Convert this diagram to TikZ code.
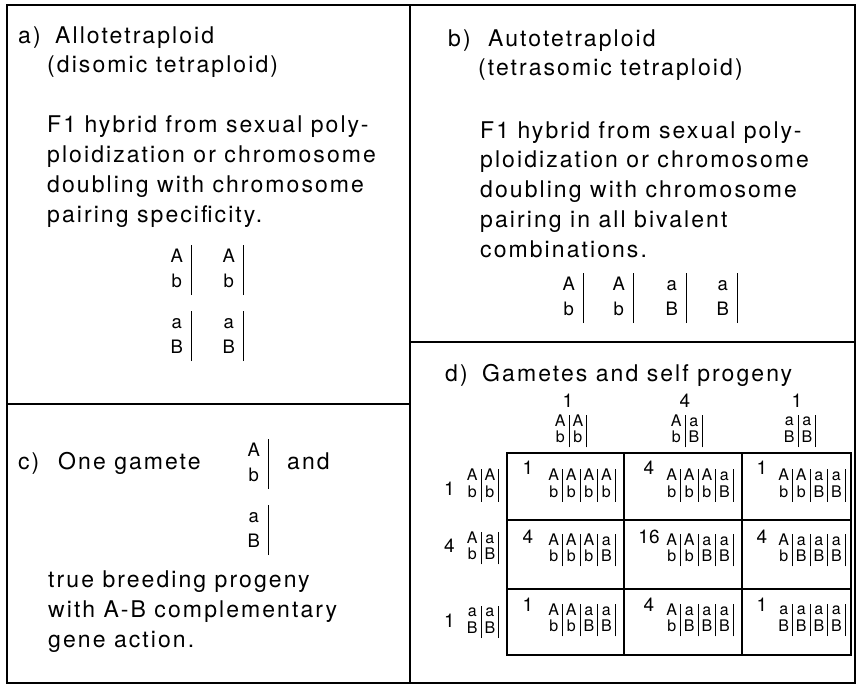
\documentclass[tikz,border=0pt]{standalone}
\usepackage{fontspec}
\setmainfont{TeX Gyre Heros}
\newfontfamily\panelfont[LetterSpace=9]{TeX Gyre Heros}
\usepackage{array}
\usetikzlibrary{positioning}

\setlength{\arrayrulewidth}{0.9pt}
% one chromosome pair, large
\newcommand{\gOne}[2]{{\setlength{\tabcolsep}{0pt}\begin{tabular}{@{}c@{\hspace{8pt}}|@{}}#1\\#2\end{tabular}}}
% gametes and progeny in the grid
\newcommand{\gTwo}[4]{{\setlength{\tabcolsep}{3pt}\begin{tabular}{@{}c|c|@{}}#1&#2\\#3&#4\end{tabular}}}
\newcommand{\gFour}[8]{{\setlength{\tabcolsep}{3pt}\begin{tabular}{@{}c|c|c|c|@{}}#1&#2&#3&#4\\#5&#6&#7&#8\end{tabular}}}

\tikzset{
  paneltext/.style={font=\panelfont\fontsize{23}{29.7}\selectfont, anchor=base west, inner sep=0pt, align=left},
  genebig/.style={font=\fontsize{18.5}{25}\selectfont, inner sep=0pt, anchor=east},
  genesmall/.style={font=\fontsize{16}{16}\selectfont, inner sep=0pt},
  cellnum/.style={font=\fontsize{19}{20}\selectfont, inner sep=0pt},
  frame/.style={line width=1.6pt},
  gridline/.style={line width=1.1pt}
}

\begin{document}
\begin{tikzpicture}[x=1pt, y=-1pt]
    \useasboundingbox (0,0) rectangle (858,688);
    % Panel frames
    \draw[frame] (7,5) rectangle (855,683);
    \draw[frame] (410,5) -- (410,683);
    \draw[frame] (7,404) -- (410,404);
    \draw[frame] (410,342) -- (855,342);

    % a) allotetraploid
    \node[paneltext] (alab) at (18,43) {a)};
    \node[paneltext] (atitle) at (55,43) {Allotetraploid};
    \node[paneltext] (asub) at (47,72) {(disomic tetraploid)};
    \node[paneltext] (atext) at (47,222) {F1 hybrid from sexual poly-\\ploidization or chromosome\\doubling with chromosome\\pairing specificity.};
    \node[genebig] (a1) at (192,270) {\gOne Ab};
    \node[genebig] (a2) at (244,270) {\gOne Ab};
    \node[genebig] (a3) at (192,336) {\gOne aB};
    \node[genebig] (a4) at (244,336) {\gOne aB};

    % b) autotetraploid
    \node[paneltext] (blab) at (448,46) {b)};
    \node[paneltext] (btitle) at (488,46) {Autotetraploid};
    \node[paneltext] (bsub) at (478,75) {(tetrasomic tetraploid)};
    \node[paneltext] (btext) at (480,257) {F1 hybrid from sexual poly-\\ploidization or chromosome\\doubling with chromosome\\pairing in all bivalent\\combinations.};
    \node[genebig] (b1) at (584,298) {\gOne Ab};
    \node[genebig] (b2) at (634,298) {\gOne Ab};
    \node[genebig] (b3) at (687,298) {\gOne aB};
    \node[genebig] (b4) at (738,298) {\gOne aB};

    % c) one gamete
    \node[paneltext] (clab) at (18,469) {c)};
    \node[paneltext] (ctitle) at (58,469) {One gamete};
    \node[genebig] (c1) at (269,464) {\gOne Ab};
    \node[paneltext] (cand) at (287,469) {and};
    \node[genebig] (c2) at (269,530) {\gOne aB};
    \node[paneltext] (ctext) at (48,647) {true breeding progeny\\with A-B complementary\\gene action.};

    % d) gametes and self progeny
    \node[paneltext] (dlab) at (445,381) {d)};
    \node[paneltext] (dtitle) at (482,381) {Gametes and self progeny};
    \node[cellnum] (h1) at (568,401) {1};
    \node[cellnum] (h2) at (685,401) {4};
    \node[cellnum] (h3) at (797,401) {1};
    \node[genesmall] (hg1) at (571,431) {\gTwo AAbb};
    \node[genesmall] (hg2) at (687,431) {\gTwo AabB};
    \node[genesmall] (hg3) at (800,431) {\gTwo aaBB};
    \foreach \ny/\gy/\n/\g [count=\r] in {489/485.5/1/AAbb, 546/548/4/AabB, 621/622/1/aaBB}{
        \node[cellnum, anchor=east] (r\r) at (455,\ny) {\n};
        \node[genesmall] (rg\r) at (483,\gy) {\expandafter\gTwo\g};
    }
    \draw[gridline] (507,453) rectangle (851,655);
    \foreach \x in {624,742} \draw[gridline] (\x,453) -- (\x,655);
    \foreach \y in {520,589} \draw[gridline] (507,\y) -- (851,\y);
    \foreach \ny/\gy/\na/\nb/\nc/\ga/\gb/\gc [count=\r] in {
        468/485.5/1/4/1/AAAAbbbb/AAAabbbB/AAaabbBB,
        537/550/4/16/4/AAAabbbB/AAaabbBB/AaaabBBB,
        605/620/1/4/1/AAaabbBB/AaaabBBB/aaaaBBBB}{
        \node[cellnum] (n\r-1) at (528,\ny) {\na};
        \node[cellnum] (n\r-2) at (649,\ny) {\nb};
        \node[cellnum] (n\r-3) at (762,\ny) {\nc};
        \node[genesmall] (g\r-1) at (582,\gy) {\expandafter\gFour\ga};
        \node[genesmall] (g\r-2) at (700,\gy) {\expandafter\gFour\gb};
        \node[genesmall] (g\r-3) at (812,\gy) {\expandafter\gFour\gc};
    }
\end{tikzpicture}
\end{document}
